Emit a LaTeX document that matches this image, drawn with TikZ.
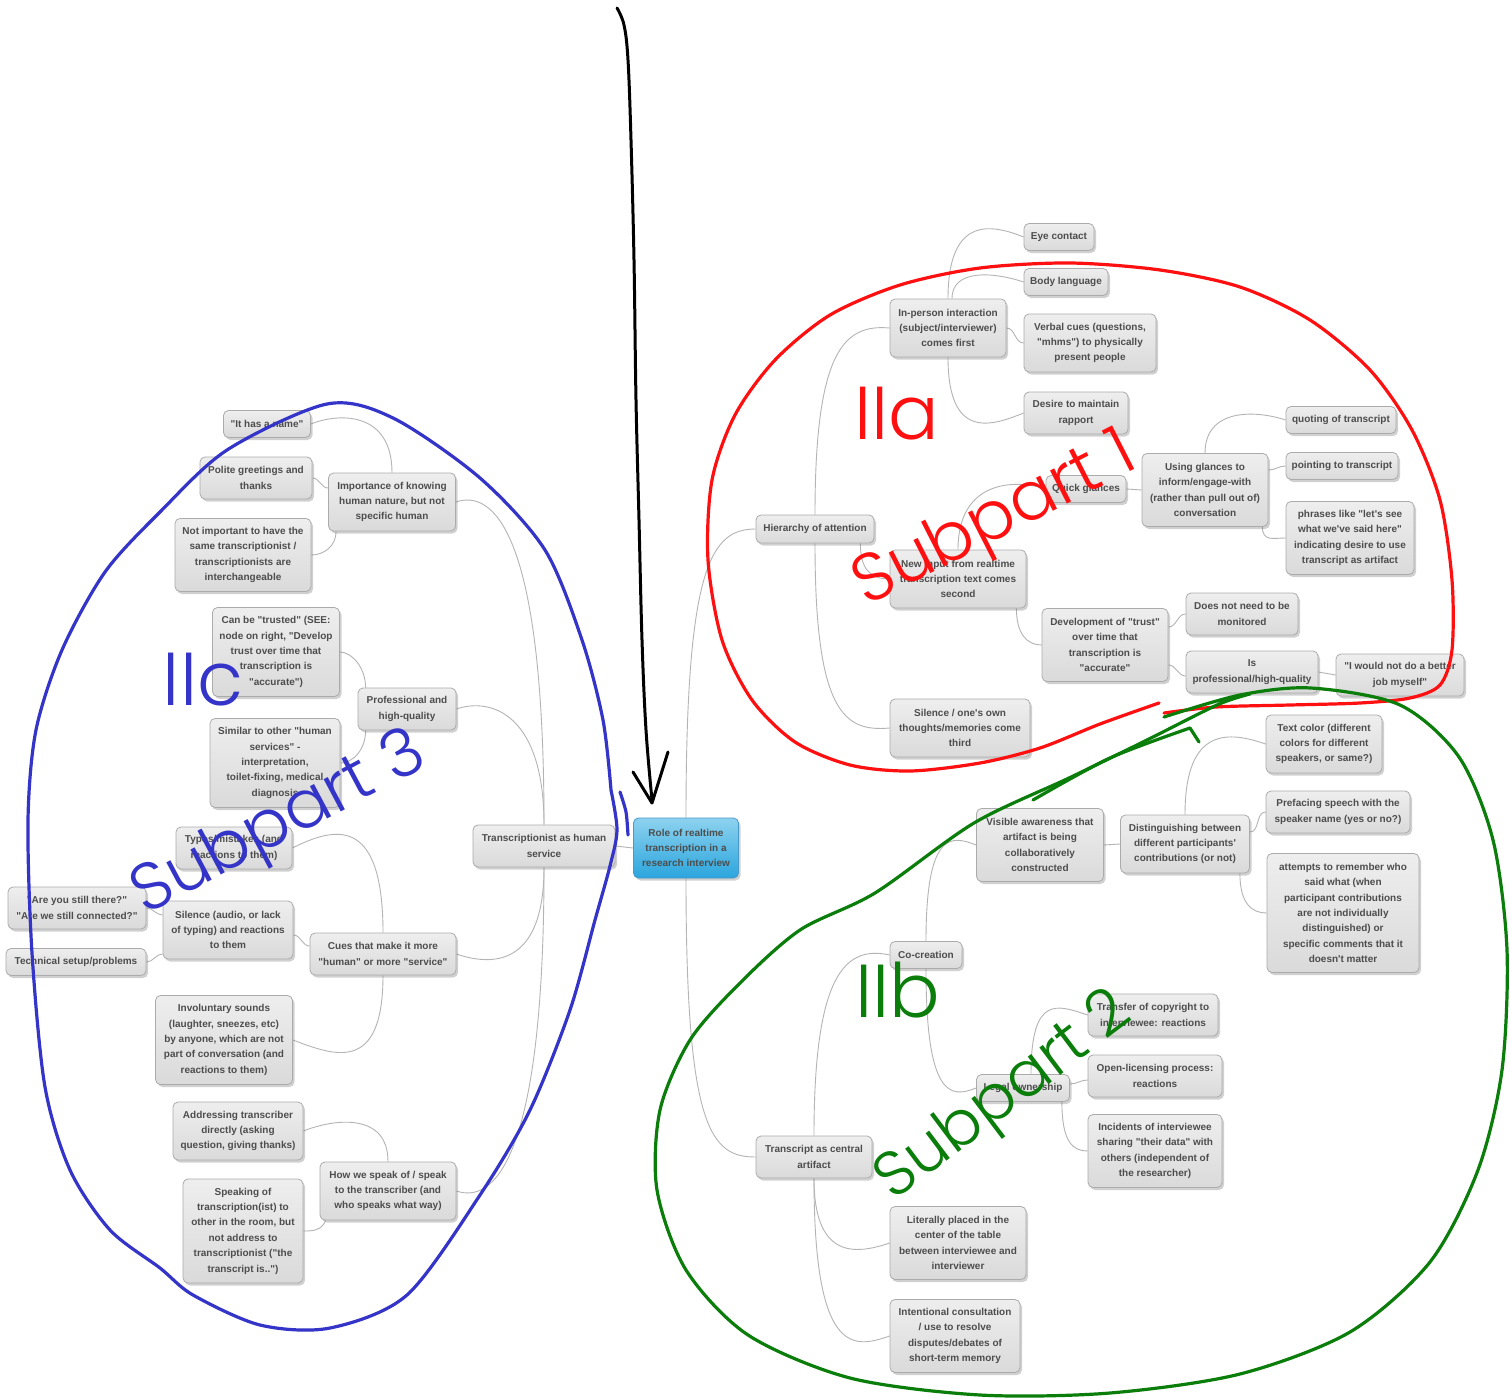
\documentclass[tikz,border=0pt]{standalone}
\usepackage{fontspec}
\setmainfont{Liberation Sans}[Ligatures=TeXOff]
\newfontfamily\hwfont{Poppins Light}
\usetikzlibrary{shadows,calc,backgrounds}
\definecolor{boxtop}{HTML}{EEEEEE}
\definecolor{boxbot}{HTML}{DADADA}
\definecolor{boxline}{HTML}{ABABAB}
\definecolor{txt}{HTML}{4D4D4D}
\definecolor{conncol}{HTML}{B4B4B4}
\definecolor{roottop}{HTML}{8DD2EF}
\definecolor{rootbot}{HTML}{2BA5DD}
\definecolor{rootline}{HTML}{4A98C8}
\definecolor{hred}{HTML}{FF1010}
\definecolor{hgreen}{HTML}{0A7D0A}
\definecolor{hblue}{HTML}{3434C8}
\begin{document}
\begin{tikzpicture}[x=1pt,y=-1pt,
  box/.style={draw=boxline, line width=0.8pt, rounded corners=5pt, top color=boxtop, bottom color=boxbot,
    drop shadow={shadow xshift=2pt, shadow yshift=-2.5pt, opacity=0.3, fill=black!60},
    font=\bfseries\fontsize{10}{15.4}\selectfont, text=txt, align=center, inner sep=2pt},
  rootbox/.style={box, top color=roottop, bottom color=rootbot, draw=rootline},
  wh/.style 2 args={minimum width=#1pt, minimum height=#2pt},
  conn/.style={draw=conncol, line width=0.9pt},
  hand/.style={line width=3.2pt, line cap=round, line join=round},
  handtext/.style={font=\hwfont\fontsize{#1}{#1}\selectfont, inner sep=0pt}
]
\useasboundingbox (0,0) rectangle (1510,1399);

% ---------- root ----------
\node[rootbox, wh={105}{60}] (root) at (686,848) {Role of realtime\\transcription in a\\research interview};

% ---------- right upper ----------
\node[box, wh={118}{28}] (hier) at (815,529) {Hierarchy of attention};
\node[box, wh={116}{58}] (inperson) at (948,328) {In-person interaction\\(subject/interviewer)\\comes first};
\node[box, wh={70}{27}] (eye) at (1059,237) {Eye contact};
\node[box, wh={84}{27}] (body) at (1066,282) {Body language};
\node[box, wh={132}{58}] (verbal) at (1090,343) {Verbal cues (questions,\\"mhms") to physically\\present people};
\node[box, wh={104}{42}] (desire) at (1076,413) {Desire to maintain\\rapport};
\node[box, wh={136}{58}] (newinput) at (958,579) {New input from realtime\\transcription text comes\\second};
\node[box, wh={80}{27}] (quick) at (1086,489) {Quick glances};
\node[box, wh={126}{73}] (using) at (1205,490) {Using glances to\\inform/engage-with\\(rather than pull out of)\\conversation};
\node[box, wh={110}{27}] (quoting) at (1341,420) {quoting of transcript};
\node[box, wh={112}{27}] (pointing) at (1342,466) {pointing to transcript};
\node[box, wh={128}{73}] (phrases) at (1350,538) {phrases like "let's see\\what we've said here"\\indicating desire to use\\transcript as artifact};
\node[box, wh={126}{73}] (devtrust) at (1105,645) {Development of "trust"\\over time that\\transcription is\\"accurate"};
\node[box, wh={112}{42}] (notmon) at (1242,614) {Does not need to be\\monitored};
\node[box, wh={132}{42}] (isprof) at (1252,672) {Is\\professional/high-quality};
\node[box, wh={128}{42}] (better) at (1400,675) {"I would not do a better\\job myself"};
\node[box, wh={140}{58}] (silence3) at (960,728) {Silence / one's own\\thoughts/memories come\\third};

% ---------- right lower ----------
\node[box, wh={116}{42}] (transcript) at (814,1157) {Transcript as central\\artifact};
\node[box, wh={72}{27}] (cocreation) at (926,955) {Co-creation};
\node[box, wh={127}{73}] (visible) at (1040,845) {Visible awareness that\\artifact is being\\collaboratively\\constructed};
\node[box, wh={129}{58}] (disting) at (1185,844) {Distinguishing between\\different participants'\\contributions (or not)};
\node[box, wh={116}{58}] (textcolor) at (1324,744) {Text color (different\\colors for different\\speakers, or same?)};
\node[box, wh={144}{42}] (preface) at (1338,812) {Prefacing speech with the\\speaker name (yes or no?)};
\node[box, wh={152}{119}] (attempts) at (1343,913) {attempts to remember who\\said what (when\\participant contributions\\are not individually\\distinguished) or\\specific comments that it\\doesn't matter};
\node[box, wh={93}{27}] (legal) at (1023,1088) {Legal ownership};
\node[box, wh={130}{42}] (transfer) at (1153,1015) {Transfer of copyright to\\interviewee: reactions};
\node[box, wh={134}{42}] (openlic) at (1155,1076) {Open-licensing process:\\reactions};
\node[box, wh={134}{73}] (incidents) at (1155,1151) {Incidents of interviewee\\sharing "their data" with\\others (independent of\\the researcher)};
\node[box, wh={136}{73}] (literally) at (958,1243) {Literally placed in the\\center of the table\\between interviewee and\\interviewer};
\node[box, wh={130}{73}] (intentional) at (955,1336) {Intentional consultation\\/ use to resolve\\disputes/debates of\\short-term memory};

% ---------- left ----------
\node[box, wh={142}{42}] (thas) at (544,846) {Transcriptionist as human\\service};
\node[box, wh={127}{58}] (importance) at (392,502) {Importance of knowing\\human nature, but not\\specific human};
\node[box, wh={87}{27}] (hasname) at (267,424) {"It has a name"};
\node[box, wh={112}{42}] (polite) at (256,478) {Polite greetings and\\thanks};
\node[box, wh={136}{73}] (notimp) at (243,555) {Not important to have the\\same transcriptionist /\\transcriptionists are\\interchangeable};
\node[box, wh={98}{42}] (prof) at (407,709) {Professional and\\high-quality};
\node[box, wh={127}{89}] (trusted) at (276,652) {Can be "trusted" (SEE:\\node on right, "Develop\\trust over time that\\transcription is\\"accurate")};
\node[box, wh={130}{89}] (similar) at (275,763) {Similar to other "human\\services" -\\interpretation,\\toilet-fixing, medical\\diagnosis};
\node[box, wh={146}{42}] (cues) at (383,954) {Cues that make it more\\"human" or more "service"};
\node[box, wh={116}{42}] (typos) at (234,848) {Typos/mistakes (and\\reactions to them)};
\node[box, wh={130}{58}] (silence) at (228,930) {Silence (audio, or lack\\of typing) and reactions\\to them};
\node[box, wh={138}{42}] (areyou) at (77,908) {"Are you still there?"\\"Are we still connected?"};
\node[box, wh={140}{27}] (tech) at (76,962) {Technical setup/problems};
\node[box, wh={137}{89}] (involuntary) at (224,1040) {Involuntary sounds\\(laughter, sneezes, etc)\\by anyone, which are not\\part of conversation (and\\reactions to them)};
\node[box, wh={136}{58}] (howspeak) at (388,1191) {How we speak of / speak\\to the transcriber (and\\who speaks what way)};
\node[box, wh={130}{58}] (addressing) at (238,1131) {Addressing transcriber\\directly (asking\\question, giving thanks)};
\node[box, wh={120}{104}] (speaking) at (243,1231) {Speaking of\\transcription(ist) to\\other in the room, but\\not address to\\transcriptionist ("the\\transcript is..")};

% ---------- connectors ----------
\begin{pgfonlayer}{background}
\fill[white] (0,0) rectangle (1510,1399);
\draw[conn] (root.west) -- (thas.east);
\draw[conn] (root.north) .. controls +(0,-250) and +(-45,0) .. (hier.west);
\draw[conn] (root.south) .. controls +(0,250) and +(-45,0) .. (transcript.west);

\draw[conn] (hier.north) .. controls +(0,-165) and +(-45,-4) .. (inperson.west);
\draw[conn] ($(hier.south east)+(-14,0)$) .. controls +(0,25) and +(-20,0) .. (newinput.west);
\draw[conn] (hier.south) .. controls +(0,170) and +(-45,4) .. (silence3.west);
\draw[conn] (inperson.north) .. controls +(0,-85) and +(-30,-12) .. (eye.west);
\draw[conn] ($(inperson.north)+(4,0)$) .. controls +(0,-30) and +(-30,-10) .. (body.west);
\draw[conn] (inperson.east) to[out=0,in=180] (verbal.west);
\draw[conn] (inperson.south) .. controls +(0,85) and +(-30,12) .. (desire.west);
\draw[conn] (newinput.north) .. controls +(0,-70) and +(-30,-10) .. (quick.west);
\draw[conn] (quick.east) -- (using.west);
\draw[conn] (using.north) .. controls +(0,-45) and +(-30,-10) .. (quoting.west);
\draw[conn] ($(using.east)+(0,-20)$) to[out=0,in=180] (pointing.west);
\draw[conn] ($(using.south east)+(-6,0)$) .. controls +(0,15) and +(-12,0) .. (phrases.west);
\draw[conn] ($(newinput.south east)+(-10,0)$) .. controls +(0,25) and +(-15,0) .. (devtrust.west);
\draw[conn] ($(devtrust.east)+(0,-18)$) to[out=0,in=180] (notmon.west);
\draw[conn] ($(devtrust.east)+(0,20)$) to[out=0,in=180] ($(isprof.west)+(0,4)$);
\draw[conn] (isprof.east) -- (better.west);

\draw[conn] (transcript.north) .. controls +(0,-160) and +(-45,-10) .. (cocreation.west);
\draw[conn] (transcript.south) .. controls +(0,80) and +(-35,12) .. (literally.west);
\draw[conn] (transcript.south) .. controls +(0,180) and +(-35,12) .. (intentional.west);
\draw[conn] (cocreation.north) .. controls +(0,-110) and +(-25,-10) .. (visible.west);
\draw[conn] (cocreation.south) .. controls +(0,130) and +(-25,10) .. (legal.west);
\draw[conn] (visible.east) -- (disting.west);
\draw[conn] (disting.north) .. controls +(0,-90) and +(-35,-12) .. (textcolor.west);
\draw[conn] ($(disting.east)+(0,-12)$) to[out=0,in=180] (preface.west);
\draw[conn] ($(disting.south east)+(-10,0)$) .. controls +(0,30) and +(-15,0) .. (attempts.west);
\draw[conn] ($(legal.north)+(8,0)$) .. controls +(0,-80) and +(-30,-10) .. (transfer.west);
\draw[conn] ($(legal.east)+(0,-4)$) to[out=0,in=180] ($(openlic.west)+(0,4)$);
\draw[conn] ($(legal.south east)+(-8,0)$) .. controls +(0,40) and +(-15,0) .. (incidents.west);

\draw[conn] (thas.north) .. controls +(0,-300) and +(35,-12) .. (importance.east);
\draw[conn] (thas.north) .. controls +(0,-110) and +(35,-12) .. (prof.east);
\draw[conn] (thas.south) .. controls +(0,100) and +(35,12) .. (cues.east);
\draw[conn] (thas.south) .. controls +(0,300) and +(35,12) .. (howspeak.east);
\draw[conn] (importance.north) .. controls +(0,-60) and +(30,-12) .. (hasname.east);
\draw[conn] ($(importance.west)+(0,-14)$) to[out=180,in=0] (polite.east);
\draw[conn] ($(importance.south west)+(8,0)$) .. controls +(0,15) and +(12,0) .. (notimp.east);
\draw[conn] ($(prof.north west)+(8,0)$) .. controls +(0,-20) and +(12,0) .. (trusted.east);
\draw[conn] ($(prof.south west)+(8,0)$) .. controls +(0,20) and +(12,0) .. (similar.east);
\draw[conn] (cues.north) .. controls +(0,-120) and +(40,-20) .. (typos.east);
\draw[conn] ($(cues.west)+(0,-8)$) to[out=180,in=0] ($(silence.east)+(0,5)$);
\draw[conn] (cues.south) .. controls +(0,100) and +(40,15) .. (involuntary.east);
\draw[conn] ($(silence.west)+(0,-15)$) to[out=180,in=0] (areyou.east);
\draw[conn] ($(silence.west)+(0,24)$) to[out=180,in=0] (tech.east);
\draw[conn] (howspeak.north) .. controls +(0,-50) and +(30,-12) .. (addressing.east);
\draw[conn] ($(howspeak.south west)+(6,0)$) .. controls +(-4,10) and +(10,0) .. (speaking.east);
\end{pgfonlayer}

% ---------- handwritten annotations ----------
\draw[hand, black, line width=3pt] plot[smooth, tension=0.6] coordinates {(617,8) (624,25) (628,60) (631,140) (634,260) (636,400) (639,520) (642,640) (646,730) (652,800)};
\draw[hand, black, line width=3pt] (633,772) -- (652,803) -- (668,752);

\draw[hand, hred] plot[smooth] coordinates {(1159,703) (1100,724) (1040,748) (980,763) (910,771) (850,765) (795,742) (752,700) (722,640) (708,560) (712,480) (735,415) (775,360) (830,315) (900,285) (980,268) (1070,263) (1160,270) (1240,287) (1310,320) (1370,370) (1412,430) (1440,500) (1452,580) (1452,650) (1440,685) (1410,698) (1360,703) (1290,705) (1216,707) (1164,713)};

\draw[hand, hgreen] plot[smooth] coordinates {(1164,717) (1240,695) (1311,688) (1400,705) (1459,757) (1493,840) (1507,950) (1502,1070) (1478,1170) (1430,1262) (1350,1332) (1240,1374) (1110,1393) (980,1395) (850,1378) (748,1335) (686,1270) (657,1190) (660,1110) (690,1040) (740,983) (800,930) (875,893) (974,823) (1069,778) (1145,741) (1217,705) (1250,694)};
\draw[hand, hgreen] plot[smooth] coordinates {(1033,800) (1110,758) (1190,728)} -- (1199,742);

\draw[hand, hblue] plot[smooth] coordinates {(611,790) (617,830) (610,866) (595,920) (570,1010) (530,1110) (480,1195) (407,1295) (330,1328) (260,1325) (193,1295) (160,1268) (110,1230) (70,1170) (45,1087) (32,953) (28,820) (36,730) (62,650) (105,572) (160,512) (227,450) (327,404) (393,418) (480,478) (545,550) (582,640) (603,720) (611,790)};
\draw[hand, hblue] plot[smooth] coordinates {(620,792) (626,812) (628,835)};

\node[handtext=75, text=hred] (ta) at (897,414) {IIa};
\node[handtext=75, text=hgreen] (tb) at (898,990) {IIb};
\node[handtext=75, text=hblue] (tc) at (203,680) {IIc};
\node[handtext=68, text=hred, rotate=27] (s1) at (996,522) {Subpart 1};
\node[handtext=63, text=hgreen, rotate=37] (s2) at (1005,1098) {Subpart 2};
\node[handtext=67, text=hblue, rotate=28] (s3) at (280,826) {Subpart 3};
\end{tikzpicture}
\end{document}
